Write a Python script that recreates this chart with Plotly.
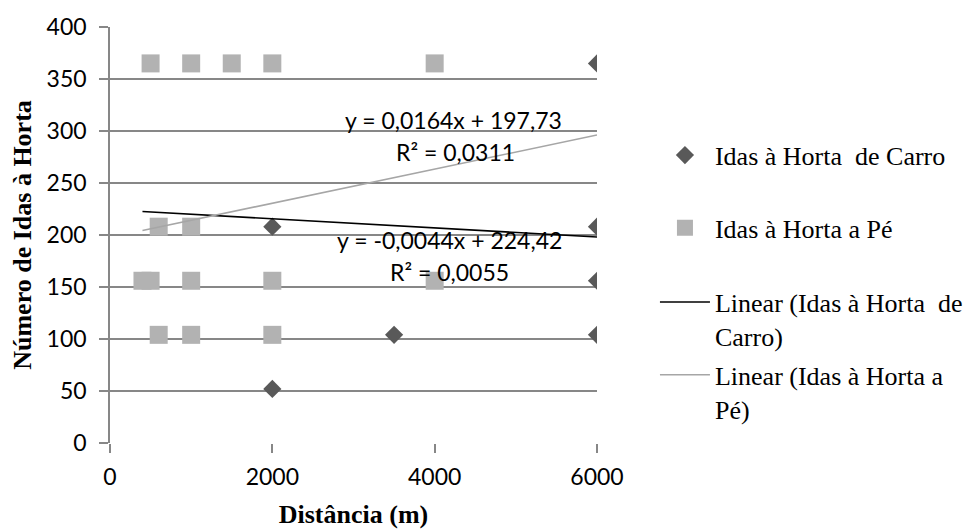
import plotly.graph_objects as go

# Data
carro_x = [6000, 2000, 6000, 6000, 3500, 6000, 2000]
carro_y = [365, 208, 208, 156, 104, 104, 52]

pe_x = [500, 1000, 1500, 2000, 4000, 600, 1000, 400, 500, 1000, 2000, 4000, 600, 1000, 2000]
pe_y = [365, 365, 365, 365, 365, 208, 208, 156, 156, 156, 156, 156, 104, 104, 104]

# Trendline equations as printed on the chart
carro_slope, carro_intercept, carro_r2 = -0.0044, 224.42, 0.0055
pe_slope, pe_intercept, pe_r2 = 0.0164, 197.73, 0.0311
trend_x = [400, 6000]

x_ticks = [0, 2000, 4000, 6000]
y_ticks = [0, 50, 100, 150, 200, 250, 300, 350, 400]

carro_trend_y = [carro_slope * x + carro_intercept for x in trend_x]
pe_trend_y = [pe_slope * x + pe_intercept for x in trend_x]


def fmt(v, d):
    return f"{v:.{d}f}".replace(".", ",")


sans = "Lato"
serif = "Liberation Serif"
grid = "#878787"

fig = go.Figure()
fig.add_trace(go.Scatter(
    x=carro_x, y=carro_y, mode="markers", name="Idas à Horta  de Carro",
    legend="legend",
    marker=dict(symbol="diamond", size=14, color="#595959", line=dict(width=0)),
))
fig.add_trace(go.Scatter(
    x=pe_x, y=pe_y, mode="markers", name="Idas à Horta a Pé",
    legend="legend2",
    marker=dict(symbol="square", size=18, color="#b2b2b2", line=dict(width=0)),
))
fig.add_trace(go.Scatter(
    x=trend_x, y=carro_trend_y, mode="lines", name="Linear (Idas à Horta  de<br>Carro)",
    legend="legend3",
    line=dict(color="#000000", width=1.6),
))
fig.add_trace(go.Scatter(
    x=trend_x, y=pe_trend_y, mode="lines", name="Linear (Idas à Horta a<br>Pé)",
    legend="legend4",
    line=dict(color="#a6a6a6", width=1.6),
))

ann_font = dict(family=sans, size=23, color="#000000")
annotations = [
    dict(x=4238, y=310.6, text=f"y = {fmt(pe_slope, 4)}x + {fmt(pe_intercept, 2)}"),
    dict(x=4251, y=279.8, text=f"R² = {fmt(pe_r2, 4)}"),
    dict(x=4177, y=195.0, text=f"y = {fmt(carro_slope, 4)}x + {fmt(carro_intercept, 2)}"),
    dict(x=4177, y=164.4, text=f"R² = {fmt(carro_r2, 4)}"),
]
for a in annotations:
    a.update(xref="x", yref="y", showarrow=False, font=ann_font,
             xanchor="center", yanchor="middle")

leg_common = dict(
    x=1.119, xanchor="left", yanchor="middle", itemwidth=50, valign="top",
    font=dict(family=serif, size=26, color="#000000"),
    bgcolor="rgba(0,0,0,0)", borderwidth=0,
)

fig.update_layout(
    template="none",
    width=963, height=521,
    paper_bgcolor="white", plot_bgcolor="white",
    margin=dict(l=102, r=374, t=19, b=86, autoexpand=False),
    showlegend=True,
    legend=dict(y=0.692, **leg_common),
    legend2=dict(y=0.517, **leg_common),
    legend3=dict(y=0.298, **leg_common),
    legend4=dict(y=0.123, **leg_common),
    annotations=annotations,
    xaxis=dict(
        range=[0, 6000], tickvals=x_ticks, ticktext=[str(v) for v in x_ticks],
        showgrid=False, zeroline=False, automargin=False,
        showline=False, ticks="outside", ticklen=9, tickcolor=grid, tickwidth=1.5,
        ticklabelstandoff=4,
        tickfont=dict(family=sans, size=23, color="#000000"),
        title=dict(text="<b>Distância (m)</b>", font=dict(family=serif, size=26, color="#000000"), standoff=19),
    ),
    yaxis=dict(
        range=[0, 400], tickvals=y_ticks, ticktext=[str(v) for v in y_ticks],
        showgrid=True, gridcolor=grid, gridwidth=1.5, zeroline=False, automargin=False,
        showline=True, linecolor=grid, linewidth=1.5,
        ticks="outside", ticklen=9, tickcolor=grid, tickwidth=1.5,
        ticklabelstandoff=8,
        tickfont=dict(family=sans, size=23, color="#000000"),
        title=dict(text="<b>Número de Idas à Horta</b>", font=dict(family=serif, size=26, color="#000000"), standoff=12),
    ),
)

fig.write_html("out.html")
